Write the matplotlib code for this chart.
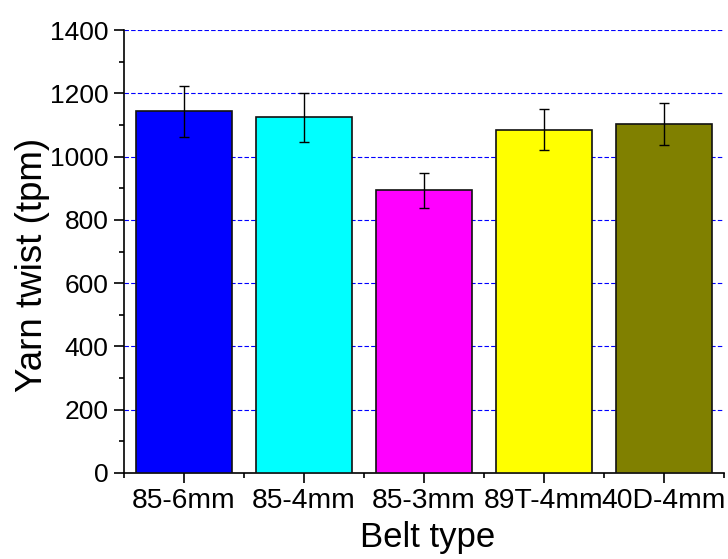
import matplotlib
matplotlib.use("Agg")
import matplotlib.pyplot as plt
from matplotlib.ticker import MultipleLocator
import numpy as np

categories = ["85-6mm", "85-4mm", "85-3mm", "89T-4mm", "40D-4mm"]
twist = [1143, 1124, 894, 1085, 1102]
errors = [80, 77, 55, 64, 67]
colors = ["#0000ff", "#00ffff", "#ff00ff", "#ffff00", "#808000"]
yticks = [0, 200, 400, 600, 800, 1000, 1200, 1400]

plt.rcParams['font.family'] = ['Liberation Sans', 'DejaVu Sans']

W, H = 728, 559
fig = plt.figure(figsize=(W/100, H/100), dpi=100)
ax = fig.add_axes([124/W, (H-473)/H, 600/W, (473-30)/H])

x = np.arange(1, len(categories) + 1)
ax.bar(x, twist, width=0.8, color=colors, edgecolor="#111111", linewidth=1.2, zorder=3)
ax.errorbar(x, twist, yerr=errors, fmt="none", ecolor="black", elinewidth=1.0,
            capsize=3.6, capthick=1.0, zorder=4)

ax.set_xlim(0.5, 5.5)
ax.set_ylim(0, 1400)
ax.set_yticks(yticks)
ax.yaxis.set_minor_locator(MultipleLocator(100))
ax.set_xticks(x)
ax.set_xticklabels(categories)
ax.set_xticks(np.arange(0.5, 5.6, 1.0), minor=True)

for y in yticks[1:]:
    ax.axhline(y, color="#0000ff", linestyle=(0, (4, 2)), linewidth=0.8, zorder=1)

for s in ["top", "right"]:
    ax.spines[s].set_visible(False)
for s in ["left", "bottom"]:
    ax.spines[s].set_linewidth(1.2)
    ax.spines[s].set_color("black")

ax.tick_params(axis="both", which="major", direction="out", length=7, width=1.2,
               labelsize=19, pad=4)
ax.tick_params(axis="both", which="minor", direction="out", length=3.6, width=1.2)
ax.tick_params(axis="x", labelsize=20.3)

fig.text(42/W, 1 - 265/H, "Yarn twist (tpm)", fontsize=26.5, rotation=90,
         rotation_mode="anchor", ha="center", va="baseline")
fig.text(428/W, 1 - 547/H, "Belt type", fontsize=25, ha="center", va="baseline")

fig.savefig("out.png", dpi=100)
